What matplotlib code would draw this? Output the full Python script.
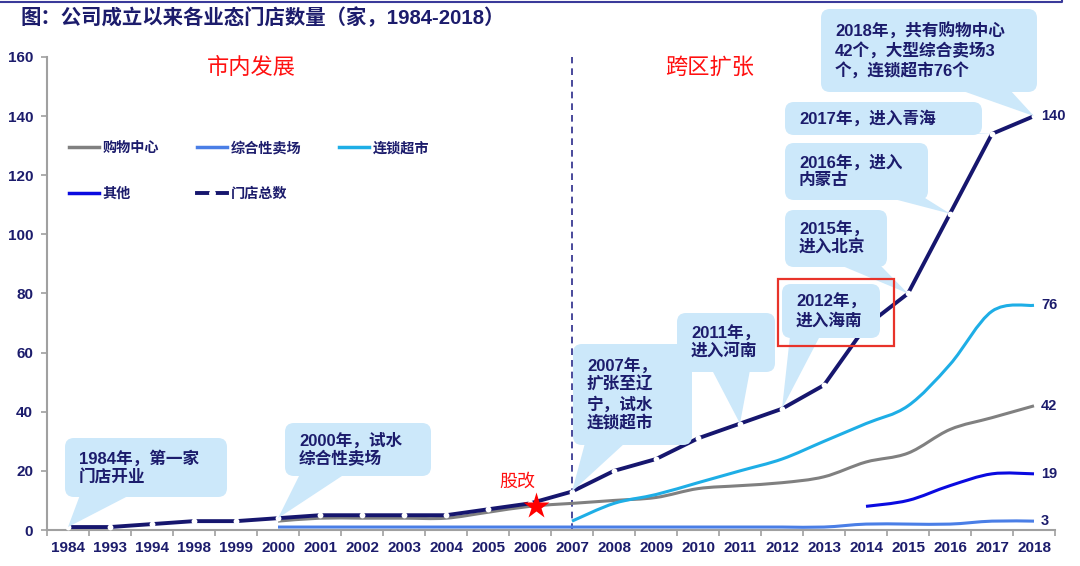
import matplotlib
matplotlib.use("Agg")
import matplotlib.pyplot as plt
import numpy as np
from matplotlib.path import Path
from matplotlib.patches import PathPatch, FancyBboxPatch, Polygon, Rectangle
from matplotlib.lines import Line2D
from matplotlib import transforms

plt.rcParams['font.family'] = ['Liberation Sans', 'Noto Sans CJK SC', 'DejaVu Sans']

# 数据（家）
years = ['1984', '1993', '1994', '1998', '1999', '2000', '2001', '2002', '2003', '2004', '2005',
         '2006', '2007', '2008', '2009', '2010', '2011', '2012', '2013', '2014', '2015', '2016',
         '2017', '2018']
total = [1, 1, 2, 3, 3, 4, 5, 5, 5, 5, 7, 9, 13, 20, 24, 31, 36, 41, 49, 69, 80, 107, 134, 140]
mall_start = '2000'
mall = [3, 4, 4, 4, 4, 6, 8, 9, 10, 11, 14, 15, 16, 18, 23, 26, 34, 38, 42]
hyper_start = '2000'
hyper = [1, 1, 1, 1, 1, 1, 1, 1, 1, 1, 1, 1, 1, 1, 2, 2, 2, 3, 3]
chain_start = '2007'
chain = [3, 9, 12, 16, 20, 24, 30, 36, 42, 56, 74, 76]
other_start = '2014'
other = [8, 10, 15, 19, 19]

NAVY = '#1c1c6c'
C_TOTAL = '#16166e'
C_MALL = '#808080'
C_HYPER = '#4a7ee6'
C_CHAIN = '#1eaee6'
C_OTHER = '#0a0ae0'
C_BOX = '#cce8fa'

W, H = 1080, 566
fig = plt.figure(figsize=(W / 100, H / 100), dpi=100)
ax = fig.add_axes([47 / W, 36 / H, 1008 / W, 473 / H])
ax.set_xlim(-0.5, 23.5)
ax.set_ylim(0, 160)

# 像素坐标（左上角为原点）
pxT = transforms.Affine2D().scale(1 / 100, -1 / 100).translate(0, H / 100) + fig.dpi_scale_trans


def smooth_path(xs, ys):
    pts = np.column_stack([xs, ys]).astype(float)
    n = len(pts)
    verts = [pts[0]]
    codes = [Path.MOVETO]
    for i in range(n - 1):
        p0 = pts[i - 1] if i > 0 else pts[i]
        p1, p2 = pts[i], pts[i + 1]
        p3 = pts[i + 2] if i + 2 < n else pts[i + 1]
        verts += [p1 + (p2 - p0) / 6, p2 - (p3 - p1) / 6, p2]
        codes += [Path.CURVE4] * 3
    return Path(verts, codes)


def draw_series(vals, start, color, lw=2.2):
    i0 = years.index(start)
    xs = np.arange(i0, i0 + len(vals))
    ax.add_patch(PathPatch(smooth_path(xs, vals), fill=False, ec=color, lw=lw,
                           capstyle='butt', zorder=3))


draw_series(hyper, hyper_start, C_HYPER)
draw_series(mall, mall_start, C_MALL)
draw_series(chain, chain_start, C_CHAIN)
draw_series(other, other_start, C_OTHER)
ax.plot(np.arange(len(years)), total, color=C_TOTAL, lw=2.8, marker='o', ms=4.2,
        mfc='white', mec='none', zorder=4, solid_capstyle='butt')

# 末端数值
for vals in [total, chain, mall, other, hyper]:
    ax.annotate(str(vals[-1]), xy=(len(years) - 1, vals[-1]), xytext=(5, 0),
                textcoords='offset points', va='center', ha='left', fontsize=10.5,
                fontweight='bold', color=NAVY, zorder=6)

# 坐标轴
for s in ['top', 'right']:
    ax.spines[s].set_visible(False)
for s in ['left', 'bottom']:
    ax.spines[s].set_color('#a0a0a0')
    ax.spines[s].set_linewidth(1.5)
ax.set_yticks(np.arange(0, 161, 20))
ax.set_xticks(np.arange(len(years)))
ax.set_xticklabels(years)
ax.set_xticks(np.arange(len(years) + 1) - 0.5, minor=True)
ax.tick_params(axis='x', which='major', length=0, pad=8)
ax.tick_params(axis='x', which='minor', length=4, color='#a0a0a0', width=1.2)
ax.tick_params(axis='y', length=4, color='#a0a0a0', width=1.2, pad=6)
for lab in ax.get_xticklabels() + ax.get_yticklabels():
    lab.set_fontweight('bold')
    lab.set_color(NAVY)
    lab.set_fontsize(11)

# 分界线
ax.axvline(years.index('2007'), ymin=0, ymax=(530 - 45) / 473, color='#2a2a8a', lw=1.2,
           ls=(0, (4, 3)), zorder=2)

# 图例
handles = [Line2D([], [], color=C_MALL, lw=2.5), Line2D([], [], color=C_OTHER, lw=2.5),
           Line2D([], [], color=C_HYPER, lw=2.5),
           Line2D([], [], color=C_TOTAL, lw=2.8, marker='o', ms=5, mfc='white', mec='none'),
           Line2D([], [], color=C_CHAIN, lw=2.5)]
labels = ['购物中心', '其他', '综合性卖场', '门店总数', '连锁超市']
leg = ax.legend(handles, labels, ncol=3, loc='upper left', bbox_to_anchor=(0.022, 0.822),
                frameon=False, handlelength=2.1, handletextpad=0.25, columnspacing=2.7,
                labelspacing=2.25, borderpad=0, borderaxespad=0,
                prop={'weight': 'bold', 'size': 10.2})
for t in leg.get_texts():
    t.set_color(NAVY)

# 标题
fig.text(20, 18, '图：公司成立以来各业态门店数量（家，1984-2018）', transform=pxT, va='center',
         ha='left', fontsize=14.7, fontweight='bold', color=NAVY)
fig.add_artist(Line2D([0, 1062, 1062], [2, 2, 0], transform=pxT, color='#3a3a9a', lw=1.5))

# 阶段
fig.text(251, 68, '市内发展', transform=pxT, ha='center', va='center', fontsize=16, color='#ff1010')
fig.text(710, 68, '跨区扩张', transform=pxT, ha='center', va='center', fontsize=16, color='#ff1010')
ax.plot(11.15, 8, marker='*', ms=20, color='#ff0000', mec='none', zorder=6)
fig.text(517, 482, '股改', transform=pxT, ha='center', va='center', fontsize=13, color='#ff1010')

# 注释框: 文本, 框(左, 上, 右, 下), 楔形底边(x1, x2), 指向年份
callouts = [
    ('1984年，第一家\n门店开业', (65, 438, 227, 497), (80, 130), '1984'),
    ('2000年，试水\n综合性卖场', (285, 423, 431, 476), (300, 345), '2000'),
    ('2007年，\n扩张至辽\n宁，试水\n连锁超市', (573, 344, 692, 445), (585, 625), '2007'),
    ('2011年，\n进入河南', (677, 313, 775, 372), (712, 750), '2011'),
    ('2012年，\n进入海南', (782, 284, 880, 338), (790, 820), '2012'),
    ('2015年，\n进入北京', (785, 210, 887, 267), (840, 880), '2015'),
    ('2016年，进入\n内蒙古', (785, 143, 928, 200), (890, 925), '2016'),
    ('2017年，进入青海', (785, 102, 982, 135), (945, 980), '2017'),
    ('2018年，共有购物中心\n42个，大型综合卖场3\n个，连锁超市76个', (821, 9, 1037, 92), (960, 1010), '2018'),
]
inv = pxT.inverted()
for text, (l, t, r, b), (w1, w2), yr in callouts:
    i = years.index(yr)
    tip = inv.transform(ax.transData.transform((i, total[i])))
    wedge = Polygon([(w1, b - 2), (w2, b - 2), tuple(tip)], closed=True, transform=pxT,
                    fc=C_BOX, ec='none', zorder=5)
    fig.add_artist(wedge)
    box = FancyBboxPatch((l, t), r - l, b - t, boxstyle='round,pad=0,rounding_size=9',
                         transform=pxT, fc=C_BOX, ec='none', zorder=5)
    fig.add_artist(box)
    fig.text(l + 14, (t + b) / 2, text, transform=pxT, ha='left', va='center', fontsize=12,
             fontweight='bold', color=NAVY, linespacing=1.2, zorder=6)

fig.add_artist(Rectangle((778, 279), 116, 67, transform=pxT, fill=False, ec='#e8332a', lw=1.6,
                         zorder=6))

fig.savefig('out.png', dpi=100)
